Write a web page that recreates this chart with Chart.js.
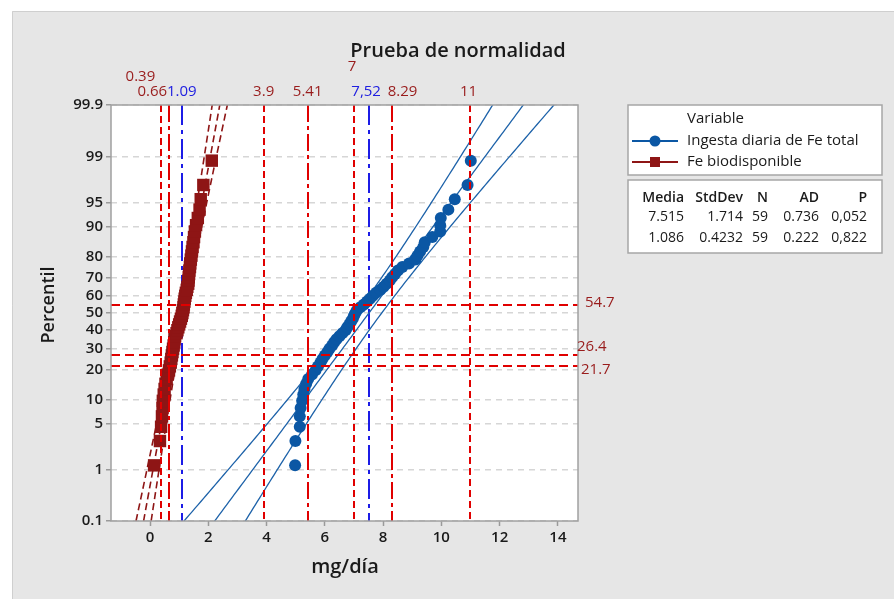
<!DOCTYPE html>
<html><head><meta charset="utf-8">
<script src="https://cdn.jsdelivr.net/npm/chart.js@4.4.0/dist/chart.umd.min.js"></script>
<style>html,body{margin:0;padding:0;background:#fff;}#wrap{width:894px;height:599px;}</style>
</head><body><div id="wrap"><canvas id="c" width="894" height="599"></canvas></div>
<script>
// ---------------- DATA ----------------
const percentiles = [1.18, 2.86, 4.55, 6.23, 7.91, 9.60, 11.28, 12.96, 14.65, 16.33,
  18.01, 19.70, 21.38, 23.06, 24.75, 26.43, 28.11, 29.80, 31.48, 33.16,
  34.85, 36.53, 38.22, 39.90, 41.58, 43.27, 44.95, 46.63, 48.32, 50.00,
  51.68, 53.37, 55.05, 56.73, 58.42, 60.10, 61.78, 63.47, 65.15, 66.84,
  68.52, 70.20, 71.89, 73.57, 75.25, 76.94, 78.62, 80.30, 81.99, 83.67,
  85.35, 87.04, 88.72, 90.40, 92.09, 93.77, 95.45, 97.14, 98.82];
const ingestaFe = [4.98, 4.99, 5.14, 5.14, 5.17, 5.22, 5.26, 5.30, 5.36, 5.43,
  5.56, 5.68, 5.76, 5.85, 5.92, 6.00, 6.09, 6.16, 6.25, 6.32,
  6.40, 6.50, 6.60, 6.71, 6.77, 6.84, 6.90, 6.96, 7.00, 7.05,
  7.10, 7.22, 7.34, 7.45, 7.55, 7.65, 7.76, 7.91, 8.02, 8.12,
  8.23, 8.31, 8.41, 8.51, 8.66, 8.89, 9.11, 9.18, 9.27, 9.38,
  9.43, 9.69, 9.96, 9.96, 9.98, 10.24, 10.46, 10.90, 11.01];
const feBiodisponible = [0.14, 0.34, 0.38, 0.41, 0.43, 0.44, 0.47, 0.50, 0.53, 0.57,
  0.61, 0.65, 0.68, 0.71, 0.73, 0.75, 0.77, 0.79, 0.81, 0.83,
  0.84, 0.86, 0.91, 0.94, 0.97, 1.00, 1.03, 1.06, 1.09, 1.11,
  1.13, 1.15, 1.16, 1.18, 1.19, 1.21, 1.23, 1.26, 1.28, 1.31,
  1.32, 1.33, 1.34, 1.35, 1.37, 1.38, 1.40, 1.42, 1.44, 1.46,
  1.49, 1.51, 1.54, 1.58, 1.64, 1.70, 1.74, 1.83, 2.12];
const seriesNames = ['Ingesta diaria de Fe total', 'Fe biodisponible'];
const statHeaders = ['Media', 'StdDev', 'N', 'AD', 'P'];
const statMedia = [7.515, 1.086];
const statStdDev = [1.714, 0.4232];
const statN = [59, 59];
const statAD = [0.736, 0.222];
const statP = ['0,052', '0,822'];
const xTicks = [0, 2, 4, 6, 8, 10, 12, 14];
const yTicks = [0.1, 1, 5, 10, 20, 30, 40, 50, 60, 70, 80, 90, 95, 99, 99.9];
const refRedX = [0.39, 0.66, 3.9, 5.41, 7, 8.29, 11];
const refRedXLabels = ['0.39', '0.66', '3.9', '5.41', '7', '8.29', '11'];
const refBlueX = [1.09, 7.52];
const refBlueXLabels = ['1.09', '7,52'];
const refRedY = [54.7, 26.4, 21.7];
const refRedYLabels = ['54.7', '26.4', '21.7'];
const titleText = 'Prueba de normalidad';
const xTitle = 'mg/día';
const yTitle = 'Percentil';
const legendTitle = 'Variable';

// ---------------- STYLE ----------------
const FONT = "'Open Sans', 'Noto Sans', sans-serif";
const BLUE = '#0b57a4', BLUE_LINE = '#1d62a9', RED = '#8e1515', REF_RED = '#e00000', REF_BLUE = '#1c1ce6';
const LBL_RED = '#991c1c', LBL_BLUE = '#2020e0';
const DASH_SHORT = [7, 4], DASH_LONG = [17, 4, 4, 4], DASH_BLUE = [20, 5, 4, 5];
const redXStyle = [
  {dx: -21, y: 77, dash: DASH_SHORT}, {dx: -17, y: 92, dash: DASH_LONG}, {dx: 0, y: 92, dash: DASH_SHORT},
  {dx: 0, y: 92, dash: DASH_LONG}, {dx: -2, y: 67, dash: DASH_SHORT}, {dx: 11, y: 92, dash: DASH_LONG},
  {dx: -2, y: 92, dash: DASH_SHORT}];
const blueXStyle = [{dx: 0, y: 92}, {dx: -3, y: 92}];
const redYStyle = [{dx: 7, dy: -2}, {dx: -1, dy: -9}, {dx: 3, dy: 4}];

// ---------------- MATH (probability scale) ----------------
function normCdf(z) {
  const t = 1 / (1 + 0.3275911 * Math.abs(z) / Math.SQRT2);
  const y = 1 - (((((1.061405429 * t - 1.453152027) * t) + 1.421413741) * t - 0.284496736) * t + 0.254829592) * t * Math.exp(-z * z / 2);
  return z >= 0 ? 0.5 * (1 + y) : 0.5 * (1 - y);
}
function probit(pct) {
  const p = pct / 100;
  const a = [-39.6968302866538, 220.946098424521, -275.928510446969, 138.357751867269, -30.6647980661472, 2.50662827745924];
  const b = [-54.4760987982241, 161.585836858041, -155.698979859887, 66.8013118877197, -13.2806815528857];
  const c = [-0.00778489400243029, -0.322396458041136, -2.40075827716184, -2.54973253934373, 4.37466414146497, 2.93816398269878];
  const d = [0.00778469570904146, 0.32246712907004, 2.445134137143, 3.75440866190742];
  const pl = 0.02425;
  let q, r;
  if (p < pl) { q = Math.sqrt(-2 * Math.log(p));
    return (((((c[0]*q+c[1])*q+c[2])*q+c[3])*q+c[4])*q+c[5]) / ((((d[0]*q+d[1])*q+d[2])*q+d[3])*q+1); }
  if (p > 1 - pl) { q = Math.sqrt(-2 * Math.log(1 - p));
    return -(((((c[0]*q+c[1])*q+c[2])*q+c[3])*q+c[4])*q+c[5]) / ((((d[0]*q+d[1])*q+d[2])*q+d[3])*q+1); }
  q = p - 0.5; r = q * q;
  return (((((a[0]*r+a[1])*r+a[2])*r+a[3])*r+a[4])*r+a[5])*q / (((((b[0]*r+b[1])*r+b[2])*r+b[3])*r+b[4])*r+1);
}

const BaseScale = Chart.Scale;
class ProbitScale extends BaseScale {
  determineDataLimits() { this.min = this.options.min; this.max = this.options.max; }
  buildTicks() { return yTicks.map(v => ({value: v})); }
  configure() { super.configure(); this._zmin = probit(this.min); this._zmax = probit(this.max); }
  getLabelForValue(v) { return String(v); }
  getPixelForValue(v) { return this.getPixelForDecimal((probit(v) - this._zmin) / (this._zmax - this._zmin)); }
  getValueForPixel(px) { return 100 * normCdf(this._zmin + this.getDecimalForPixel(px) * (this._zmax - this._zmin)); }
}
ProbitScale.id = 'probit';
ProbitScale.defaults = {};
Chart.register(ProbitScale);

// fitted line and 95% confidence bands from the table's mean / StdDev / N
function fitCurves(k) {
  const m = statMedia[k], s = statStdDev[k], n = statN[k];
  const fit = [], lo = [], hi = [];
  for (let z = -3.25; z <= 3.2501; z += 0.05) {
    const p = 100 * normCdf(z);
    const xp = m + z * s;
    const se = s * Math.sqrt(1 / n + z * z / (2 * n));
    fit.push({x: xp, y: p}); lo.push({x: xp - 1.96 * se, y: p}); hi.push({x: xp + 1.96 * se, y: p});
  }
  return [fit, lo, hi];
}
const blueCurves = fitCurves(0), redCurves = fitCurves(1);

function lineDs(data, color, dash, width) {
  return {type: 'line', data, borderColor: color, borderWidth: width, borderDash: dash, pointRadius: 0,
    fill: false, tension: 0, order: 2, showLine: true};
}

function txt(ctx, s, x, y, o = {}) {
  ctx.save();
  ctx.font = `${o.weight || 'normal'} ${o.size || 14}px ${FONT}`;
  ctx.fillStyle = o.color || '#1a1a1a';
  ctx.textAlign = o.align || 'left';
  ctx.textBaseline = 'middle';
  if (o.rot) { ctx.translate(x, y); ctx.rotate(o.rot); ctx.fillText(s, 0, 0); }
  else ctx.fillText(s, x, y);
  ctx.restore();
}
function vline(ctx, x, ca, color, dash, w) {
  ctx.save(); ctx.strokeStyle = color; ctx.lineWidth = w; ctx.setLineDash(dash);
  ctx.beginPath(); ctx.moveTo(x, ca.top); ctx.lineTo(x, ca.bottom); ctx.stroke(); ctx.restore();
}

const decor = {
  id: 'decor',
  beforeDraw(chart) {
    const {ctx, chartArea: ca, width, height} = chart;
    ctx.save();
    ctx.fillStyle = '#ffffff'; ctx.fillRect(0, 0, width, height);
    ctx.fillStyle = '#e6e6e6'; ctx.fillRect(12, 11, width - 12, height - 11);
    ctx.strokeStyle = '#cfcfcf'; ctx.lineWidth = 1;
    ctx.beginPath(); ctx.moveTo(12.5, height); ctx.lineTo(12.5, 11.5); ctx.lineTo(width, 11.5); ctx.stroke();
    ctx.fillStyle = '#ffffff'; ctx.fillRect(ca.left, ca.top, ca.right - ca.left, ca.bottom - ca.top);
    ctx.restore();
  },
  beforeDatasetsDraw(chart) {
    const {ctx, chartArea: ca, scales: {x}} = chart;
    refBlueX.forEach(v => vline(ctx, Math.round(x.getPixelForValue(v)), ca, REF_BLUE, DASH_BLUE, 2));
  },
  afterDatasetsDraw(chart) {
    const {ctx, chartArea: ca, scales: {x, y}} = chart;
    refRedX.forEach((v, i) => vline(ctx, Math.round(x.getPixelForValue(v)), ca, REF_RED, redXStyle[i].dash, 2));
    refRedY.forEach(v => {
      const py = Math.round(y.getPixelForValue(v));
      ctx.save(); ctx.strokeStyle = REF_RED; ctx.lineWidth = 2; ctx.setLineDash([9, 5]);
      ctx.beginPath(); ctx.moveTo(ca.left, py); ctx.lineTo(ca.right, py); ctx.stroke(); ctx.restore();
    });
    ctx.save(); ctx.strokeStyle = '#a0a0a0'; ctx.lineWidth = 1.5;
    ctx.strokeRect(ca.left, ca.top, ca.right - ca.left, ca.bottom - ca.top); ctx.restore();
  },
  afterDraw(chart) {
    const {ctx, chartArea: ca, scales: {x, y}} = chart;
    txt(ctx, titleText, 458, 51, {size: 20, weight: 600, align: 'center'});
    txt(ctx, xTitle, 345, 567, {size: 20, weight: 600, align: 'center'});
    txt(ctx, yTitle, 49, 305, {size: 18, weight: 600, align: 'center', rot: -Math.PI / 2});
    refRedX.forEach((v, i) => txt(ctx, refRedXLabels[i], x.getPixelForValue(v) + redXStyle[i].dx, redXStyle[i].y, {size: 15, color: LBL_RED, align: 'center'}));
    refBlueX.forEach((v, i) => txt(ctx, refBlueXLabels[i], x.getPixelForValue(v) + blueXStyle[i].dx, blueXStyle[i].y, {size: 15, color: LBL_BLUE, align: 'center'}));
    refRedY.forEach((v, i) => txt(ctx, refRedYLabels[i], ca.right + redYStyle[i].dx, y.getPixelForValue(v) + redYStyle[i].dy, {size: 15, color: LBL_RED}));
    // legend box
    ctx.save(); ctx.fillStyle = '#fff'; ctx.strokeStyle = '#a6a6a6'; ctx.lineWidth = 1.5;
    ctx.fillRect(628, 105, 254, 70); ctx.strokeRect(628, 105, 254, 70);
    ctx.fillRect(628, 180, 254, 73); ctx.strokeRect(628, 180, 254, 73);
    // legend symbols
    ctx.lineWidth = 2; ctx.strokeStyle = BLUE; ctx.beginPath(); ctx.moveTo(632, 141); ctx.lineTo(678, 141); ctx.stroke();
    ctx.fillStyle = BLUE; ctx.beginPath(); ctx.arc(655, 141, 5.5, 0, Math.PI * 2); ctx.fill();
    ctx.strokeStyle = RED; ctx.beginPath(); ctx.moveTo(632, 162); ctx.lineTo(678, 162); ctx.stroke();
    ctx.fillStyle = RED; ctx.fillRect(650, 157, 10, 10);
    ctx.restore();
    txt(ctx, legendTitle, 687, 119, {size: 15});
    txt(ctx, seriesNames[0], 687, 141, {size: 15});
    txt(ctx, seriesNames[1], 687, 162, {size: 15});
    // stats table
    const colR = [684, 743, 768, 819, 867];
    statHeaders.forEach((h, j) => txt(ctx, h, colR[j], 198, {size: 14, weight: 600, align: 'right'}));
    [0, 1].forEach(k => {
      const row = [statMedia[k].toFixed(3), String(statStdDev[k]), String(statN[k]), statAD[k].toFixed(3), statP[k]];
      row.forEach((s, j) => txt(ctx, s, colR[j], 217 + k * 21, {size: 14, align: 'right'}));
    });
  }
};

new Chart(document.getElementById('c'), {
  type: 'scatter',
  data: {
    datasets: [
      {label: seriesNames[0], data: ingestaFe.map((v, i) => ({x: v, y: percentiles[i]})), pointStyle: 'circle',
        pointRadius: 6, backgroundColor: BLUE, borderColor: BLUE, borderWidth: 0, order: 0},
      {label: seriesNames[1], data: feBiodisponible.map((v, i) => ({x: v, y: percentiles[i]})), pointStyle: 'rect',
        pointRadius: 8.8, backgroundColor: RED, borderColor: RED, borderWidth: 0, order: 1},
      lineDs(blueCurves[0], BLUE_LINE, [], 1.3), lineDs(blueCurves[1], BLUE_LINE, [], 1.3), lineDs(blueCurves[2], BLUE_LINE, [], 1.3),
      lineDs(redCurves[0], RED, [7, 4], 1.6), lineDs(redCurves[1], RED, [7, 4], 1.6), lineDs(redCurves[2], RED, [7, 4], 1.6)
    ]
  },
  options: {
    responsive: false, animation: false, devicePixelRatio: 1,
    layout: {padding: {left: 0, top: 105, right: 316, bottom: 0}},
    plugins: {legend: {display: false}, title: {display: false}, tooltip: {enabled: false}},
    scales: {
      x: {type: 'linear', position: 'bottom', min: -1.34, max: 14.69,
        afterBuildTicks: s => { s.ticks = xTicks.map(v => ({value: v})); },
        afterFit: s => { s.height = 78; },
        grid: {drawOnChartArea: false, drawTicks: true, tickLength: 5, tickColor: '#9a9a9a', tickWidth: 1.5},
        border: {display: false},
        ticks: {autoSkip: false, maxRotation: 0, padding: 3, color: '#1a1a1a', font: {family: FONT, size: 15, weight: 600}}
      },
      y: {type: 'probit', position: 'left', min: 0.1, max: 99.9,
        afterFit: s => { s.width = 111; },
        grid: {drawOnChartArea: true, drawTicks: true, tickLength: 5, color: '#d6d6d6', lineWidth: 1.5,
          tickColor: '#9a9a9a', tickWidth: 1.5},
        border: {display: false, dash: [6, 5]},
        ticks: {autoSkip: false, padding: 3, color: '#1a1a1a', font: {family: FONT, size: 15, weight: 600},
          callback: v => String(v)}
      }
    }
  },
  plugins: [decor]
});
</script></body></html>
